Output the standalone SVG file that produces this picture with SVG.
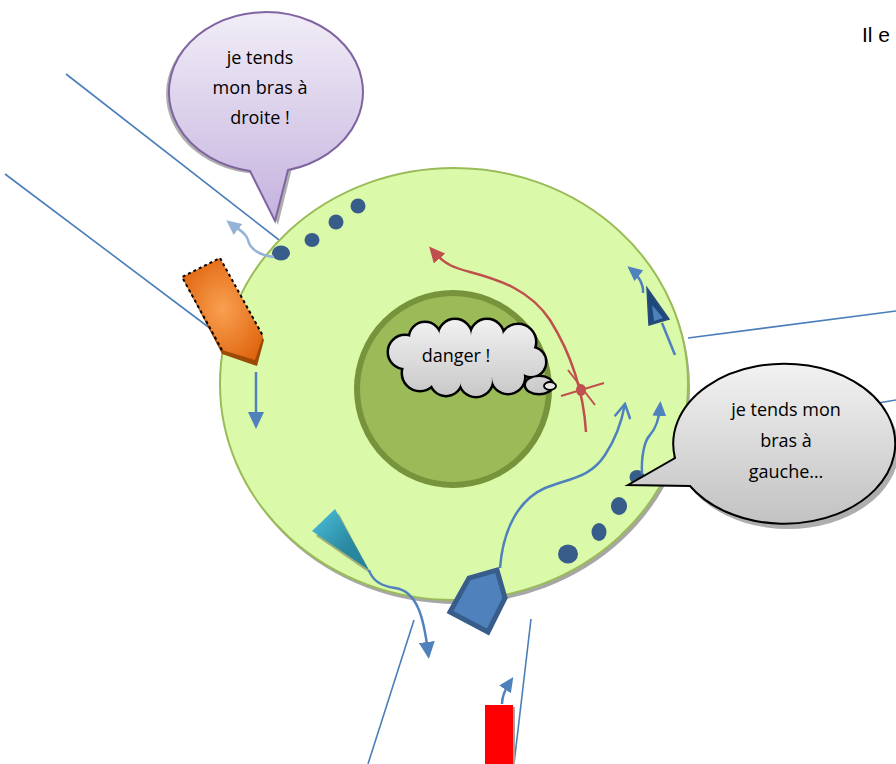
<svg xmlns="http://www.w3.org/2000/svg" width="896" height="764" viewBox="0 0 896 764">
<defs>
<linearGradient id="gPurple" x1="0" y1="0" x2="0" y2="1"><stop offset="0" stop-color="#f1edf7"/><stop offset="1" stop-color="#c4b2de"/></linearGradient>
<linearGradient id="gGray" x1="0" y1="0" x2="0" y2="1"><stop offset="0" stop-color="#f2f2f2"/><stop offset="1" stop-color="#c2c2c2"/></linearGradient>
<linearGradient id="gCloud" gradientUnits="userSpaceOnUse" x1="0" y1="318" x2="0" y2="396"><stop offset="0" stop-color="#f2f2f2"/><stop offset="1" stop-color="#c8c8c8"/></linearGradient>
<radialGradient id="gOrange" cx="0.5" cy="0.5" r="0.6"><stop offset="0" stop-color="#f9a050"/><stop offset="1" stop-color="#e0650f"/></radialGradient>
<linearGradient id="gCyan" x1="0" y1="0" x2="1" y2="1"><stop offset="0" stop-color="#4ec0dd"/><stop offset="0.6" stop-color="#2a8aa2"/><stop offset="1" stop-color="#26829a"/></linearGradient>
<marker id="aBlue" markerWidth="15" markerHeight="14" refX="9" refY="7" orient="auto" markerUnits="userSpaceOnUse"><path d="M0,0 L15,7 L0,14 z" fill="#4f81bd"/></marker>
<marker id="aBlueL" markerWidth="15" markerHeight="14" refX="9" refY="7" orient="auto" markerUnits="userSpaceOnUse"><path d="M0,0 L15,7 L0,14 z" fill="#95b3d7"/></marker>
<marker id="aBlueBig" markerWidth="17" markerHeight="16" refX="10" refY="8" orient="auto" markerUnits="userSpaceOnUse"><path d="M0,0 L17,8 L0,16 z" fill="#4f81bd"/></marker>
<marker id="aRed" markerWidth="16" markerHeight="15" refX="10" refY="7.5" orient="auto" markerUnits="userSpaceOnUse"><path d="M0,0 L16,7.5 L0,15 z" fill="#c0504d"/></marker>
<marker id="aOpen" markerWidth="18" markerHeight="18" refX="16" refY="9" orient="auto" markerUnits="userSpaceOnUse"><path d="M2,1 L16,9 L2,17" fill="none" stroke="#4f81bd" stroke-width="2.5"/></marker>
<style>
.ln{stroke:#4a7ebb;stroke-width:1.6;fill:none}
.cv{stroke:#4f81bd;stroke-width:2.5;fill:none}
.dot{fill:#385d8a}
.t{font-family:"Open Sans","Liberation Sans",sans-serif;font-size:18px;fill:#000;text-anchor:middle}
</style>
</defs>
<rect width="896" height="764" fill="#fff"/>

<g id="connectors-lines">
<line class="ln" x1="66" y1="74" x2="283" y2="243"/>
<line class="ln" x1="5" y1="174" x2="215" y2="332"/>
<line class="ln" x1="688" y1="338" x2="896" y2="311"/>
<line class="ln" x1="860" y1="406" x2="896" y2="400"/>
<line class="ln" x1="414" y1="620" x2="368" y2="764"/>
<line class="ln" x1="531" y1="619" x2="514" y2="764"/>
</g>

<g id="cell">
<ellipse cx="456" cy="388" rx="234" ry="216" fill="#a6a6a6"/>
<ellipse cx="454" cy="384" rx="234" ry="216" fill="#dafaaa" stroke="#9bbb59" stroke-width="2"/>
</g>

<g id="nucleus">
<circle cx="453" cy="389" r="96" fill="#9bbb59" stroke="#77933c" stroke-width="6"/>
</g>

<g id="bubble-droite">
<g transform="translate(3,4)" fill="#8c8c8c" opacity="0.7">
<ellipse cx="260" cy="90" rx="97" ry="80"/>
<path d="M248,160 L275,221 L290,160 z"/>
</g>
<path d="M250,171 A97,80 0 1 1 288,170 L275,221 Z" fill="url(#gPurple)" stroke="#8064a2" stroke-width="2" stroke-linejoin="miter"/>
<text class="t" x="260" y="64">je tends</text>
<text class="t" x="260" y="94">mon bras à</text>
<text class="t" x="260" y="124">droite !</text>
</g>

<g id="dots-top">
<ellipse class="dot" cx="281" cy="253" rx="9" ry="7.5"/>
<ellipse class="dot" cx="312" cy="240" rx="7.5" ry="7"/>
<ellipse class="dot" cx="336" cy="222" rx="7.5" ry="7.5"/>
<ellipse class="dot" cx="358" cy="206" rx="7.5" ry="7.5"/>
</g>

<g id="orange">
<path d="M184,281 L221,262 L264,340 L257,366 L222,354 Z" fill="#9c4a06"/>
<path d="M182,277 L220,258 L263,336 L255,360 L222,350 Z" fill="url(#gOrange)"/>
<path d="M222,350 L182,277 L220,258 L263,336" fill="none" stroke="#000" stroke-width="2" stroke-dasharray="3 3"/>
</g>

<g id="cyan">
<path d="M316,536 L339,514 L371,574 Z" fill="#8e9c6a" opacity="0.8"/>
<path d="M312,531 L335,509 L369,570 Z" fill="url(#gCyan)"/>
</g>

<g id="pentagon">
<path d="M450,612 L469,578 L497,570 L505,598 L488,632 Z" fill="#4f81bd" stroke="#385d8a" stroke-width="5" stroke-linejoin="miter"/>
</g>

<g id="red-rect">
<rect x="487" y="707" width="28" height="60" fill="#a6a6a6"/>
<rect x="485" y="705" width="28" height="60" fill="#ff0000"/>
</g>

<g id="cloud">
<g fill="#000" transform="translate(2,3)" opacity="0.35">
<ellipse cx="468" cy="358" rx="62" ry="26"/>
</g>
<g stroke="#000" stroke-width="5" fill="#000">
<circle cx="405" cy="352" r="16"/><circle cx="420" cy="373" r="17"/><circle cx="425" cy="338" r="15"/>
<circle cx="455" cy="336" r="16"/><circle cx="487" cy="336" r="16"/><circle cx="518" cy="342" r="17"/>
<circle cx="531" cy="362" r="14"/><circle cx="508" cy="377" r="16"/><circle cx="476" cy="380" r="16"/><circle cx="446" cy="380" r="15"/>
<ellipse cx="539" cy="385" rx="13" ry="8"/>
</g>
<g fill="url(#gCloud)">
<circle cx="405" cy="352" r="16"/><circle cx="420" cy="373" r="17"/><circle cx="425" cy="338" r="15"/>
<circle cx="455" cy="336" r="16"/><circle cx="487" cy="336" r="16"/><circle cx="518" cy="342" r="17"/>
<circle cx="531" cy="362" r="14"/><circle cx="508" cy="377" r="16"/><circle cx="476" cy="380" r="16"/><circle cx="446" cy="380" r="15"/>
<ellipse cx="468" cy="358" rx="55" ry="22"/>
<ellipse cx="539" cy="385" rx="13" ry="8"/>
</g>
<ellipse cx="550" cy="386" rx="6" ry="4" fill="#e6e6e6" stroke="#000" stroke-width="1.8"/>
<text class="t" x="456" y="362">danger !</text>
</g>

<g id="red-path">
<path d="M586,432 C584,400 575,360 550,320 C530,290 500,280 470,272 C455,268 445,265 433,251" fill="none" stroke="#c0504d" stroke-width="2.5" marker-end="url(#aRed)"/>
<line x1="561" y1="396" x2="604" y2="383" stroke="#c0504d" stroke-width="2"/>
<line x1="568" y1="370" x2="595" y2="405" stroke="#c0504d" stroke-width="2"/>
<ellipse cx="581" cy="390" rx="5" ry="6" fill="#c0504d"/>
</g>

<g id="dots-bottom">
<ellipse class="dot" cx="568" cy="554" rx="10" ry="9.5"/>
<ellipse class="dot" cx="599" cy="532" rx="7.5" ry="9"/>
<ellipse class="dot" cx="619" cy="506" rx="8" ry="9"/>
<ellipse class="dot" cx="637" cy="477" rx="7.5" ry="7"/>
</g>

<g id="bubble-gauche">
<g transform="translate(3,4)" fill="#8c8c8c" opacity="0.7">
<ellipse cx="785" cy="445" rx="111" ry="80"/>
</g>
<path d="M675,458 A111,80 0 1 1 690,486 L628,485 Z" fill="url(#gGray)" stroke="#000" stroke-width="2"/>
<text class="t" x="786" y="416">je tends mon</text>
<text class="t" x="786" y="447">bras à</text>
<text class="t" x="786" y="478">gauche…</text>
</g>

<g id="connectors">
<path class="cv" d="M274,257 C262,256 250,250 248,240 C246,232 236,228 231,224" style="stroke:#95b3d7" marker-end="url(#aBlueL)"/>
<line class="cv" x1="256" y1="372" x2="256" y2="422" marker-end="url(#aBlueBig)"/>
<path class="cv" d="M369,570 C372,580 380,586 395,588 C418,591 424,620 428,652" marker-end="url(#aBlueBig)"/>
<path class="cv" d="M500,568 C503,530 518,500 545,488 C570,478 590,478 605,455 C615,440 622,420 625,404" marker-end="url(#aOpen)"/>
<path class="cv" d="M642,474 C641,455 645,440 650,435 C656,428 659,420 660,407" marker-end="url(#aBlue)"/>
<path class="cv" d="M643,293 C644,285 638,275 632,270" marker-end="url(#aBlue)"/>
<line class="cv" x1="675" y1="355" x2="662" y2="323"/>
<path d="M647,288 L669,319 L649,325 Z" fill="#1f497d" stroke="#2c4d75" stroke-width="1.5"/>
<path d="M652,305 L663,318 L654,321 Z" fill="#4f81bd"/>
<path class="cv" d="M502,704 C502,695 506,688 510,682" marker-end="url(#aBlue)"/>
</g>

<text x="862" y="42" font-family="Liberation Sans, Arial, sans-serif" font-size="21" fill="#000">Il e</text>
</svg>
